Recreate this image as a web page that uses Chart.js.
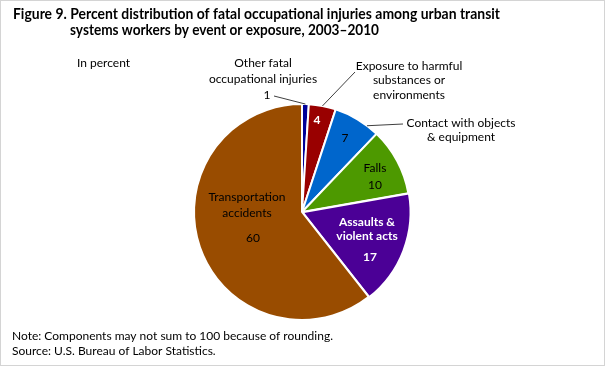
<!DOCTYPE html>
<html>
<head>
<meta charset="utf-8">
<script src="https://cdn.jsdelivr.net/npm/chart.js@4/dist/chart.umd.min.js"></script>
<style>
  html, body { margin: 0; padding: 0; background: #fff; }
  canvas { display: block; }
</style>
</head>
<body>
<canvas id="pieChart" width="605" height="366"></canvas>
<script>
// Data
const categories = [
  'Other fatal occupational injuries',
  'Exposure to harmful substances or environments',
  'Contact with objects & equipment',
  'Falls',
  'Assaults & violent acts',
  'Transportation accidents'
];
const values = [1, 4, 7, 10, 17, 60];
const sliceColors = ['#000099', '#990000', '#0066cc', '#4d9900', '#4b0096', '#994c00'];

// Label text, split the way the reference wraps it
const labelLines = [
  ['Other fatal', 'occupational injuries'],
  ['Exposure to harmful', 'substances or', 'environments'],
  ['Contact with objects', '& equipment'],
  ['Falls'],
  ['Assaults &', 'violent acts'],
  ['Transportation', 'accidents']
];

// Label placement, in px relative to pie centre (for a 108px radius)
// lines: [dx, first dy, gap], value: [dx, dy], leader: start point + optional edge angle (deg from top)
const labelLayout = [
  { lines: [-39, -149, 16], value: [-35, -117], valueColor: '#000', leader: { from: [-28, -116] } },
  { lines: [107, -146, 14.5], value: [15, -92], valueColor: '#fff', valueBold: true, leader: { from: [53, -140] } },
  { lines: [159, -89, 14], value: [43, -74], valueColor: '#000', leader: { from: [101, -88], angle: 37 } },
  { lines: [73, -44, 17], value: [73, -27], valueColor: '#000' },
  { lines: [65, 10, 14], value: [68, 45], valueColor: '#fff', valueBold: true, textColor: '#fff', textBold: true },
  { lines: [-55, -15, 16], value: [-49, 26], valueColor: '#000' }
];

const LABEL_FONT = 'Lato, "Open Sans", sans-serif';

function drawText(ctx, text, x, y, font, color, align, maxW) {
  ctx.font = font;
  ctx.fillStyle = color;
  ctx.textAlign = align || 'left';
  if (maxW) ctx.fillText(text, x, y, maxW);
  else ctx.fillText(text, x, y);
}

// Titles, notes, slice labels, leader lines
const annotations = {
  id: 'annotations',
  beforeDraw(chart) {
    const ctx = chart.ctx;
    ctx.save();
    ctx.fillStyle = '#fff';
    ctx.fillRect(0, 0, chart.width, chart.height);
    ctx.restore();
  },
  afterDraw(chart) {
    const ctx = chart.ctx;
    const meta = chart.getDatasetMeta(0);
    ctx.save();

    // frame
    ctx.strokeStyle = '#d4d4d4';
    ctx.lineWidth = 1;
    ctx.strokeRect(0.5, 0.5, chart.width - 1, chart.height - 1);

    // title
    ctx.textBaseline = 'alphabetic';
    drawText(ctx, 'Figure 9. Percent distribution of fatal occupational injuries among urban transit',
      13, 19, 'bold 15px ' + LABEL_FONT, '#000', 'left', 487);
    drawText(ctx, 'systems workers by event or exposure, 2003\u20132010',
      70, 35, 'bold 15px ' + LABEL_FONT, '#000', 'left', 309);

    ctx.textBaseline = 'middle';
    drawText(ctx, 'In percent', 77, 63, '12px ' + LABEL_FONT, '#000');
    drawText(ctx, 'Note: Components may not sum to 100 because of rounding.', 12, 336, '12px ' + LABEL_FONT, '#000', 'left', 332);
    drawText(ctx, 'Source: U.S. Bureau of Labor Statistics.', 12, 351, '12px ' + LABEL_FONT, '#000');

    // slice labels
    meta.data.forEach((arc, i) => {
      const lay = labelLayout[i];
      const k = arc.outerRadius / 108;
      const cx = arc.x, cy = arc.y;
      const textFont = (lay.textBold ? 'bold ' : '') + '12px ' + LABEL_FONT;
      const valueFont = (lay.valueBold ? 'bold ' : '') + '12px ' + LABEL_FONT;
      const txtColor = lay.textColor || '#000';

      if (lay.leader) {
        const a = lay.leader.angle !== undefined
          ? (lay.leader.angle - 90) * Math.PI / 180
          : (arc.startAngle + arc.endAngle) / 2;
        const ex = cx + arc.outerRadius * Math.cos(a);
        const ey = cy + arc.outerRadius * Math.sin(a);
        ctx.strokeStyle = '#404040';
        ctx.lineWidth = 1;
        ctx.beginPath();
        ctx.moveTo(cx + lay.leader.from[0] * k, cy + lay.leader.from[1] * k);
        ctx.lineTo(ex, ey);
        ctx.stroke();
      }

      labelLines[i].forEach((line, j) => {
        drawText(ctx, line, cx + lay.lines[0] * k, cy + (lay.lines[1] + j * lay.lines[2]) * k,
          textFont, txtColor, 'center');
      });
      drawText(ctx, String(values[i]), cx + lay.value[0] * k, cy + lay.value[1] * k,
        valueFont, lay.valueColor, 'center');
    });

    ctx.restore();
  }
};

new Chart(document.getElementById('pieChart'), {
  type: 'pie',
  data: {
    labels: categories,
    datasets: [{
      data: values,
      backgroundColor: sliceColors,
      borderColor: '#fff',
      borderWidth: 2,
      offset: [0, 0, 0, 0, 2, 0]
    }]
  },
  options: {
    responsive: false,
    animation: false,
    layout: { padding: { left: 192, right: 193, top: 102, bottom: 44 } },
    plugins: {
      legend: { display: false },
      tooltip: { enabled: false }
    }
  },
  plugins: [annotations]
});
</script>
</body>
</html>
